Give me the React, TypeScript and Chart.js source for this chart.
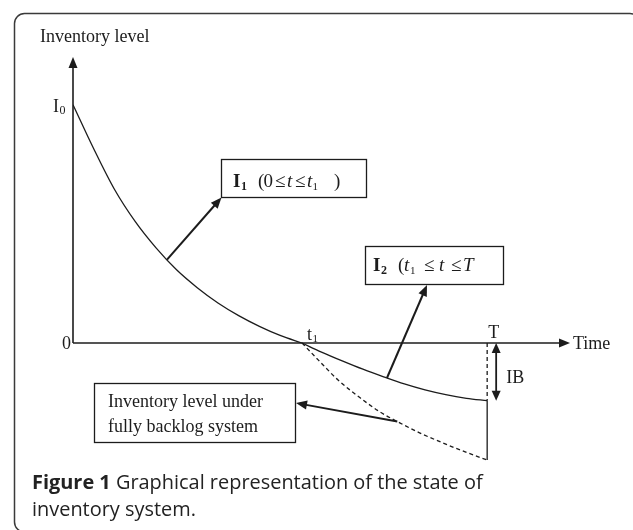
import React, { useEffect, useRef } from "react";
import { Chart, registerables } from "chart.js";

Chart.register(...registerables);

// ---- data (arbitrary schematic units) ----
const I0 = 10;
const T = 10;
const t1 = 5.53;
const xMax = 12;
const yMax = 12;
const yMin = -6;

// I1 : inventory from I0 down to zero at t1
const i1Time = [0, 0.5, 1.0, 1.5, 2.0, 2.5, 3.0, 3.5, 4.0, 4.5, 5.0, 5.53];
const i1Level = [10, 8.15, 6.45, 5.1, 4.0, 3.07, 2.32, 1.68, 1.15, 0.7, 0.32, 0];

// I2 : partial backlog from t1 to T
const i2Time = [5.53, 6.0, 6.5, 7.0, 7.5, 8.0, 8.5, 9.0, 9.5, 10];
const i2Level = [0, -0.38, -0.75, -1.1, -1.42, -1.72, -1.97, -2.17, -2.32, -2.42];

// fully backlogged inventory level (dashed)
const backlogTime = [5.53, 5.92, 6.4, 6.94, 7.42, 7.9, 8.38, 8.94, 9.47, 10];
const backlogLevel = [0, -0.71, -1.55, -2.31, -2.9, -3.36, -3.78, -4.2, -4.57, -4.91];

const INK = "#1c1c1c";
const SERIF = '"Liberation Serif", "Times New Roman", serif';
const SANS = '"Open Sans", "Noto Sans", sans-serif';

function toPts(xs: number[], ys: number[]) {
  return xs.map((v, i) => ({ x: v, y: ys[i] }));
}

function lerpAt(xs: number[], ys: number[], t: number) {
  for (let i = 0; i < xs.length - 1; i++) {
    if (t >= xs[i] && t <= xs[i + 1]) {
      const f = (t - xs[i]) / (xs[i + 1] - xs[i]);
      return ys[i] + f * (ys[i + 1] - ys[i]);
    }
  }
  return ys[ys.length - 1];
}

function head(ctx: CanvasRenderingContext2D, x1: number, y1: number, x2: number, y2: number, len = 10, w = 4) {
  const a = Math.atan2(y2 - y1, x2 - x1);
  ctx.beginPath();
  ctx.moveTo(x2, y2);
  ctx.lineTo(x2 - len * Math.cos(a) + w * Math.sin(a), y2 - len * Math.sin(a) - w * Math.cos(a));
  ctx.lineTo(x2 - len * Math.cos(a) - w * Math.sin(a), y2 - len * Math.sin(a) + w * Math.cos(a));
  ctx.closePath();
  ctx.fill();
}

function arrow(ctx: CanvasRenderingContext2D, x1: number, y1: number, x2: number, y2: number, lw = 2, len = 10, w = 4) {
  const a = Math.atan2(y2 - y1, x2 - x1);
  ctx.lineWidth = lw;
  ctx.beginPath();
  ctx.moveTo(x1, y1);
  ctx.lineTo(x2 - (len - 2) * Math.cos(a), y2 - (len - 2) * Math.sin(a));
  ctx.stroke();
  head(ctx, x1, y1, x2, y2, len, w);
}

type Run = [string, string, number, number];
function runs(ctx: CanvasRenderingContext2D, list: Run[]) {
  for (const [txt, font, x, yb] of list) {
    ctx.font = font;
    ctx.fillText(txt, x, yb);
  }
}

const diagramPlugin = {
  id: "diagram",
  afterDatasetsDraw(chart: any) {
    const { ctx, scales } = chart;
    const xs = scales.x;
    const ys = scales.y;
    const px = (v: number) => xs.getPixelForValue(v);
    const py = (v: number) => ys.getPixelForValue(v);
    ctx.save();
    ctx.strokeStyle = INK;
    ctx.fillStyle = INK;
    ctx.textBaseline = "alphabetic";
    ctx.textAlign = "left";

    // outer frame
    ctx.strokeStyle = "#3a3a3a";
    ctx.lineWidth = 1.5;
    ctx.beginPath();
    ctx.roundRect(14.5, 13.5, 640 - 14.5, 532 - 13.5, 10);
    ctx.stroke();
    ctx.strokeStyle = INK;

    const x0 = px(0);
    const y0 = py(0);
    // y axis
    ctx.lineWidth = 1.6;
    ctx.beginPath();
    ctx.moveTo(x0, y0);
    ctx.lineTo(x0, py(yMax) + 8);
    ctx.stroke();
    head(ctx, x0, y0, x0, py(yMax), 11, 4.5);
    // x axis
    ctx.beginPath();
    ctx.moveTo(x0, y0);
    ctx.lineTo(px(xMax) - 8, y0);
    ctx.stroke();
    head(ctx, x0, y0, px(xMax), y0, 11, 4.5);

    // axis labels
    runs(ctx, [
      ["Inventory level", `18px ${SERIF}`, 40, 42],
      ["I", `18px ${SERIF}`, 53, py(I0) + 7],
      ["0", `12px ${SERIF}`, 59.5, py(I0) + 9],
      ["0", `18px ${SERIF}`, 62, y0 + 6],
      ["t", `18px ${SERIF}`, px(t1) + 5, y0 - 3],
      ["1", `11px ${SERIF}`, px(t1) + 10.5, y0 - 1],
      ["T", `18px ${SERIF}`, px(T) + 1, y0 - 5],
      ["Time", `18px ${SERIF}`, px(xMax) + 3, y0 + 6],
    ]);

    // IB double arrow
    const yEnd = py(i2Level[i2Level.length - 1]);
    const xb = px(T) + 9;
    ctx.lineWidth = 1.8;
    ctx.beginPath();
    ctx.moveTo(xb, y0 + 8);
    ctx.lineTo(xb, yEnd - 8);
    ctx.stroke();
    head(ctx, xb, yEnd, xb, y0, 10, 4.5);
    head(ctx, xb, y0, xb, yEnd, 10, 4.5);
    runs(ctx, [["IB", `18px ${SERIF}`, xb + 10, (y0 + yEnd) / 2 + 11]]);

    // I1 box
    ctx.lineWidth = 1.3;
    ctx.strokeRect(221.5, 159.5, 145, 38);
    runs(ctx, [
      ["I", `bold 19px ${SERIF}`, 233, 187],
      ["1", `bold 12px ${SERIF}`, 241, 190],
      ["(", `19px ${SERIF}`, 258, 187],
      ["0", `19px ${SERIF}`, 263.5, 187],
      ["\u2264", `19px ${SERIF}`, 275, 187],
      ["t", `italic 19px ${SERIF}`, 287, 187],
      ["\u2264", `19px ${SERIF}`, 295, 187],
      ["t", `italic 19px ${SERIF}`, 307, 187],
      ["1", `11px ${SERIF}`, 312.5, 190],
      [")", `19px ${SERIF}`, 334, 187],
    ]);
    // I1 pointer
    const a1 = 2.27;
    arrow(ctx, px(a1), py(lerpAt(i1Time, i1Level, a1)), 221.5, 197.5, 2, 11, 4.5);

    // I2 box
    ctx.lineWidth = 1.3;
    ctx.strokeRect(365.5, 246.5, 138, 38);
    runs(ctx, [
      ["I", `bold 19px ${SERIF}`, 373, 271],
      ["2", `bold 12px ${SERIF}`, 381, 274],
      ["(", `19px ${SERIF}`, 398, 271],
      ["t", `italic 19px ${SERIF}`, 404, 271],
      ["1", `11px ${SERIF}`, 410, 274],
      ["\u2264", `19px ${SERIF}`, 424, 271],
      ["t", `italic 19px ${SERIF}`, 439, 271],
      ["\u2264", `19px ${SERIF}`, 451, 271],
      ["T", `italic 19px ${SERIF}`, 463, 271],
    ]);
    const a2 = 7.58;
    arrow(ctx, px(a2), py(lerpAt(i2Time, i2Level, a2)), 427, 285, 2, 11, 4.5);

    // backlog box
    ctx.lineWidth = 1.3;
    ctx.strokeRect(94.5, 383.5, 201, 59);
    runs(ctx, [
      ["Inventory level under", `18px ${SERIF}`, 108, 407],
      ["fully backlog system", `18px ${SERIF}`, 108, 432],
    ]);
    const a3 = 7.83;
    arrow(ctx, px(a3), py(lerpAt(backlogTime, backlogLevel, a3)), 296, 403, 2, 11, 4.5);

    // caption (fit first line to its width in the figure)
    ctx.fillStyle = "#222";
    const line1a = "Figure 1";
    const line1b = " Graphical representation of the state of";
    const base = 20;
    ctx.font = `bold ${base}px ${SANS}`;
    let w = ctx.measureText(line1a).width;
    ctx.font = `500 ${base}px ${SANS}`;
    w += ctx.measureText(line1b).width;
    const fs = (base * 451) / w;
    ctx.font = `bold ${fs}px ${SANS}`;
    const fw = ctx.measureText(line1a).width;
    ctx.fillText(line1a, 32, 489);
    ctx.font = `500 ${fs}px ${SANS}`;
    ctx.fillText(line1b, 32 + fw, 489);
    ctx.fillText("inventory system.", 32, 516);

    ctx.restore();
  },
};

export default function App() {
  const ref = useRef<HTMLCanvasElement>(null);
  useEffect(() => {
    const line = (data: { x: number; y: number }[], dash: number[] = [], smooth = true) => ({
      data,
      showLine: true,
      borderColor: INK,
      borderWidth: 1.3,
      borderDash: dash,
      pointRadius: 0,
      fill: false,
      cubicInterpolationMode: smooth ? ("monotone" as const) : ("default" as const),
    });
    const iEnd = i2Level[i2Level.length - 1];
    const bEnd = backlogLevel[backlogLevel.length - 1];
    const chart = new Chart(ref.current!, {
      type: "scatter",
      data: {
        datasets: [
          line(toPts(i1Time, i1Level)),
          line(toPts(i2Time, i2Level)),
          line(toPts(backlogTime, backlogLevel), [4, 3]),
          line([{ x: T, y: 0 }, { x: T, y: iEnd }], [4, 3], false),
          line([{ x: T, y: iEnd }, { x: T, y: bEnd }], [], false),
        ] as any,
      },
      options: {
        animation: false,
        responsive: false,
        events: [],
        layout: { padding: { left: 73, right: 633 - 570, top: 57, bottom: 530 - 486 } },
        scales: {
          x: { type: "linear", min: 0, max: xMax, display: false },
          y: { type: "linear", min: yMin, max: yMax, display: false },
        },
        plugins: { legend: { display: false }, tooltip: { enabled: false } },
      },
      plugins: [diagramPlugin],
    });
    return () => chart.destroy();
  }, []);
  return (
    <div style={{ position: "fixed", left: 0, top: 0, width: 633, height: 530, background: "#fff" }}>
      <canvas ref={ref} width={633} height={530} style={{ width: 633, height: 530, display: "block" }} />
    </div>
  );
}
